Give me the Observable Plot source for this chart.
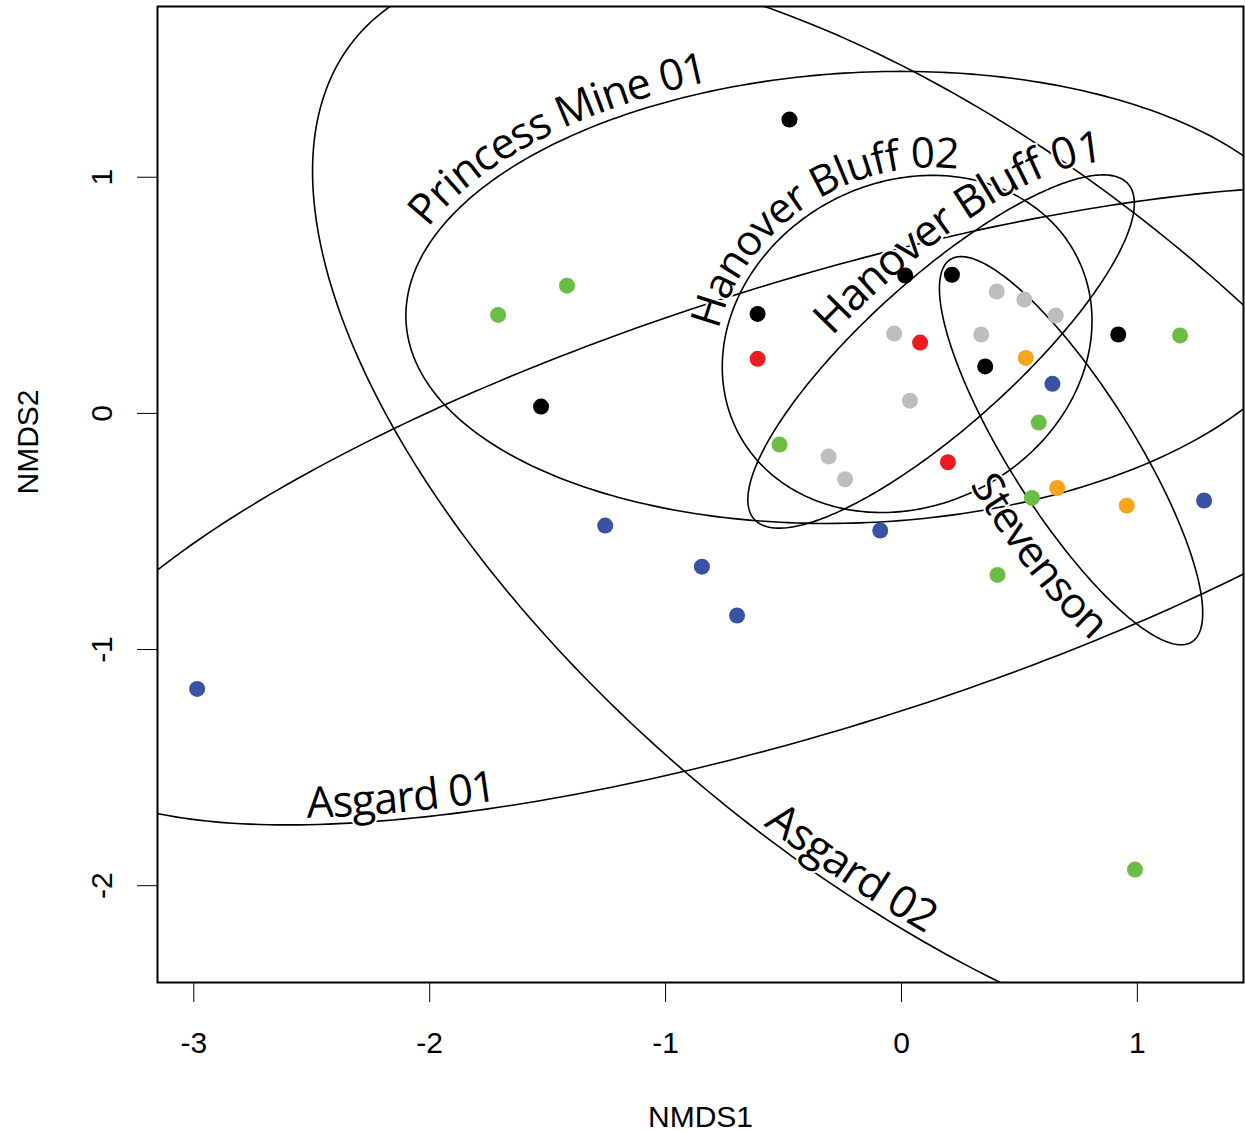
<!DOCTYPE html>
<html>
<head>
<meta charset="utf-8">
<script src="https://cdn.jsdelivr.net/npm/d3@7"></script>
<script src="https://cdn.jsdelivr.net/npm/@observablehq/plot@0.6"></script>
<style>
  html, body { margin: 0; padding: 0; background: #ffffff; }
  svg { display: block; }
</style>
</head>
<body>
<div id="chart"></div>
<script>
// ---------------- data ----------------
const sites = ["Princess Mine 01", "Hanover Bluff 02", "Hanover Bluff 01", "Stevenson", "Asgard 01", "Asgard 02"];
const siteColors = ["#000000", "#ed1c24", "#bcbec0", "#f7a51c", "#3953a4", "#6abd45"];

// sample points (site index, NMDS1, NMDS2)
const pointSite = [
  0, 0, 0, 0, 0, 0, 0,
  1, 1, 1,
  2, 2, 2, 2, 2, 2, 2, 2,
  3, 3, 3,
  4, 4, 4, 4, 4, 4, 4,
  5, 5, 5, 5, 5, 5, 5, 5
];
const nmds1 = [
  -1.528, -0.475, -0.610, 0.016, 0.214, 0.355, 0.919,
  -0.610, 0.079, 0.197,
  -0.031, 0.036, -0.309, -0.239, 0.404, 0.338, 0.521, 0.654,
  0.527, 0.660, 0.955,
  -2.986, -1.256, -0.846, -0.697, -0.090, 0.640, 1.283,
  -1.710, -1.418, -0.517, 0.582, 1.181, 0.553, 0.407, 0.990
];
const nmds2 = [
  0.029, 1.244, 0.421, 0.584, 0.587, 0.199, 0.334,
  0.231, 0.300, -0.207,
  0.338, 0.054, -0.183, -0.279, 0.516, 0.334, 0.482, 0.414,
  0.235, -0.316, -0.391,
  -1.167, -0.475, -0.649, -0.856, -0.496, 0.125, -0.369,
  0.417, 0.541, -0.132, -0.039, 0.330, -0.358, -0.684, -1.932
];

// ellipse parameters per site (centre, semi-axes, rotation in degrees)
const ellCx    = [-0.158, 0.024, 0.168, 0.719, -0.387, 0.181];
const ellCy    = [ 0.491, 0.294, 0.262, -0.158, -0.390, -0.454];
const ellA     = [ 1.945, 0.809, 1.064, 0.958, 3.386, 3.225];
const ellB     = [ 0.953, 0.685, 0.314, 0.263, 0.946, 1.521];
const ellAngle = [ 3.0, 27.8, 41.9, -57.7, 17.3, -39.2];

// label placement along each ellipse (parameter angles, baseline offset in px)
const labelStart  = [157.5, 143.7, 106, 264, 224, 274];
const labelEnd    = [108, 50.4, 18, 315, 241, 289];
const labelOffset = [10, 8, 13, -42, 7, 8];

const xTicks = [-3, -2, -1, 0, 1];
const yTicks = [-2, -1, 0, 1];
const xTitle = "NMDS1";
const yTitle = "NMDS2";

// ---------------- layout ----------------
const W = 1245, H = 1131, ML = 157, MR = 2, MT = 6, MB = 149;
const xDom = [-3.154, 1.450], yDom = [-2.410, 1.723];
const IW = W - ML - MR, IH = H - MT - MB;
const sx = v => ML + (v - xDom[0]) / (xDom[1] - xDom[0]) * IW;
const sy = v => MT + (yDom[1] - v) / (yDom[1] - yDom[0]) * IH;
const ix = p => xDom[0] + (p - ML) / IW * (xDom[1] - xDom[0]);
const iy = p => yDom[1] - (p - MT) / IH * (yDom[1] - yDom[0]);

function ellPt(i, tDeg) {
  const t = tDeg * Math.PI / 180, f = ellAngle[i] * Math.PI / 180;
  const u = ellA[i] * Math.cos(t), v = ellB[i] * Math.sin(t);
  return [ellCx[i] + u * Math.cos(f) - v * Math.sin(f),
          ellCy[i] + u * Math.sin(f) + v * Math.cos(f)];
}

// points table
const points = pointSite.map((s, k) => ({site: sites[s], x: nmds1[k], y: nmds2[k]}));

// ellipse outlines
const ellRows = [];
sites.forEach((name, i) => {
  for (let d = 0; d <= 360; d += 1) {
    const [x, y] = ellPt(i, d);
    ellRows.push({site: name, x, y});
  }
});

// curved labels: one text per character placed along the ellipse
const canvas = document.createElement("canvas");
const ctx = canvas.getContext("2d");
const LABEL_FONT = "'Open Sans', 'Noto Sans', sans-serif";
const GLYPH_SCALE = 1.05;
ctx.font = "100px " + LABEL_FONT;

function layoutLabel(i) {
  const text = sites[i];
  const t0 = labelStart[i], t1 = labelEnd[i], off = labelOffset[i];
  const n = 800, dt = t1 > t0 ? 0.01 : -0.01;
  const pts = [];
  for (let k = 0; k <= n; k++) {
    const t = t0 + (t1 - t0) * k / n;
    const [x, y] = ellPt(i, t);
    const [xa, ya] = ellPt(i, t - dt), [xb, yb] = ellPt(i, t + dt);
    let tx = sx(xb) - sx(xa), ty = sy(yb) - sy(ya);
    const len = Math.hypot(tx, ty); tx /= len; ty /= len;
    pts.push([sx(x) + off * ty, sy(y) - off * tx]);
  }
  const cum = [0];
  for (let k = 1; k < pts.length; k++)
    cum.push(cum[k - 1] + Math.hypot(pts[k][0] - pts[k - 1][0], pts[k][1] - pts[k - 1][1]));
  const L = cum[cum.length - 1];
  const full = ctx.measureText(text).width;
  const fs = 100 * L / full;
  const chars = [];
  for (let c = 0; c < text.length; c++) {
    const ch = text[c];
    if (ch === " ") continue;
    const a = ctx.measureText(text.slice(0, c)).width;
    const b = ctx.measureText(text.slice(0, c + 1)).width;
    const s = (a + b) / 2 * fs / 100;
    let k = 1;
    while (k < cum.length - 1 && cum[k] < s) k++;
    const f = (s - cum[k - 1]) / ((cum[k] - cum[k - 1]) || 1);
    const px = pts[k - 1][0] + f * (pts[k][0] - pts[k - 1][0]);
    const py = pts[k - 1][1] + f * (pts[k][1] - pts[k - 1][1]);
    const ang = Math.atan2(pts[k][1] - pts[k - 1][1], pts[k][0] - pts[k - 1][0]) * 180 / Math.PI;
    chars.push({ch, x: ix(px), y: iy(py), r: ang});
  }
  return {chars, fs: fs * GLYPH_SCALE};
}

const labelMarks = sites.map((_, i) => {
  const {chars, fs} = layoutLabel(i);
  return Plot.text(chars, {
    x: "x", y: "y", text: "ch", rotate: "r",
    fontSize: fs, fontFamily: LABEL_FONT,
    textAnchor: "middle", lineAnchor: "bottom",
    fill: "black", stroke: "white", strokeWidth: 4, paintOrder: "stroke"
  });
});

const chart = Plot.plot({
  width: W, height: H,
  marginLeft: ML, marginRight: MR, marginTop: MT, marginBottom: MB,
  style: {fontFamily: "'Liberation Sans', Arial, Helvetica, sans-serif", fontSize: "30px", color: "black", background: "white"},
  x: {domain: xDom, ticks: xTicks, tickSize: 20, tickPadding: 29, tickFormat: d => String(d), label: null},
  y: {domain: yDom, ticks: yTicks, tickSize: 20, tickPadding: 26, tickRotate: -90, tickFormat: d => String(d), label: null},
  color: {domain: sites, range: siteColors, legend: false},
  marks: [
    Plot.line(ellRows, {x: "x", y: "y", z: "site", stroke: "black", strokeWidth: 1.6, clip: true}),
    ...labelMarks,
    Plot.dot(points, {x: "x", y: "y", fill: "site", r: 8, stroke: "none"}),
    Plot.frame({stroke: "black", strokeWidth: 2}),
    Plot.text([xTitle], {frameAnchor: "bottom", dy: 144, lineAnchor: "bottom", fontSize: 30, fill: "black"}),
    Plot.text([yTitle], {frameAnchor: "left", dx: -120, rotate: -90, lineAnchor: "bottom", fontSize: 30, fill: "black"})
  ]
});
document.getElementById("chart").appendChild(chart);
</script>
</body>
</html>
